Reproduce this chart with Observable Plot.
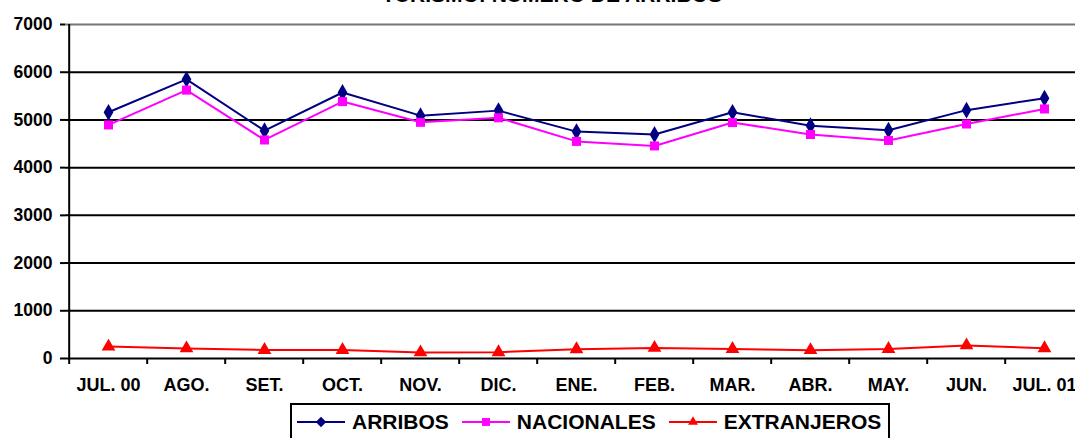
<!DOCTYPE html>
<html>
<head>
<meta charset="utf-8">
<script src="https://cdn.jsdelivr.net/npm/d3@7"></script>
<script src="https://cdn.jsdelivr.net/npm/@observablehq/plot@0.6"></script>
<style>
  html, body { margin: 0; padding: 0; background: #fff; overflow: hidden; }
  #wrap { position: relative; width: 1075px; height: 438px; font-family: "Liberation Sans", Arial, sans-serif; }
  #title { position: absolute; top: -17px; left: 352px; width: 400px; text-align: center; font-weight: bold; font-size: 21px; white-space: nowrap; }
  #legend { position: absolute; left: 290px; top: 403px; width: 600px; height: 50px; border: 2px solid #000; box-sizing: border-box; display: flex; align-items: flex-start; padding-left: 4px; padding-top: 5px; font-weight: bold; font-size: 21px; }
  .item { display: flex; align-items: center; margin-right: 12px; }
  .item svg { margin-right: 6px; }
</style>
</head>
<body>
<div id="wrap">
  <div id="chart"></div>
  <div id="title">TURISMO: NUMERO DE ARRIBOS</div>
  <div id="legend"></div>
</div>
<script>
const months = ["JUL. 00","AGO.","SET.","OCT.","NOV.","DIC.","ENE.","FEB.","MAR.","ABR.","MAY.","JUN.","JUL. 01"];
const arribos = [5160,5850,4775,5575,5090,5195,4755,4695,5160,4880,4785,5205,5455];
const nacionales = [4895,5625,4580,5385,4950,5045,4550,4455,4945,4695,4570,4915,5230];
const extranjeros = [250,212,178,180,128,132,195,222,200,175,198,275,215];
const yTicks = [0,1000,2000,3000,4000,5000,6000,7000];
const seriesNames = ["ARRIBOS","NACIONALES","EXTRANJEROS"];
const seriesColors = ["#000080","#FF00FF","#FF0000"];
const seriesSymbols = ["diamond","square","triangle"];

const seriesValues = [arribos, nacionales, extranjeros];
const rows = [];
seriesNames.forEach((s, i) => months.forEach((m, j) => rows.push({serie: s, mes: m, valor: seriesValues[i][j]})));

const half = (1047.8 - 104.3) / 12 / 2;

const chart = Plot.plot({
  width: 1075,
  height: 400,
  marginTop: 24,
  marginBottom: 42,
  marginLeft: 65,
  marginRight: 0,
  style: {fontFamily: "Liberation Sans, Arial, sans-serif", fontSize: "17.5px", fontWeight: "bold", color: "#000", background: "#fff"},
  x: {type: "point", domain: months, range: [104.3, 1047.8], padding: 0},
  y: {domain: [0, 7000], label: null},
  color: {domain: seriesNames, range: seriesColors},
  symbol: {domain: seriesNames, range: seriesSymbols},
  marks: [
    Plot.ruleY(yTicks.filter(v => v > 0 && v < 7000), {stroke: "#000", strokeWidth: 2}),
    Plot.ruleY([7000], {stroke: "#777", strokeWidth: 2}),
    Plot.ruleY([0], {stroke: "#000", strokeWidth: 2}),
    Plot.ruleX([months[0]], {dx: -half, y1: 0, y2: 7000, stroke: "#000", strokeWidth: 2}),
    Plot.axisY({ticks: yTicks, tickSize: 5, tickPadding: 8, tickFormat: d => String(d), label: null, stroke: "#000", strokeWidth: 2, strokeOpacity: 1}),
    Plot.axisX({ticks: months, tickSize: 6, dx: -half, tickFormat: () => "", label: null, stroke: "#000", strokeWidth: 2, strokeOpacity: 1}),
    Plot.axisX({ticks: months, tickSize: 0, tickPadding: 20, label: null, fontSize: 18}),
    Plot.line(rows, {x: "mes", y: "valor", z: "serie", stroke: "serie", strokeWidth: 2}),
    Plot.dot(rows, {x: "mes", y: "valor", symbol: "serie", fill: "serie", stroke: "none", r: 5.1})
  ]
});
document.getElementById("chart").appendChild(chart);

// Legend
const legend = document.getElementById("legend");
seriesNames.forEach((name, i) => {
  const item = document.createElement("div");
  item.className = "item";
  const sym = d3.symbol().type(i === 0 ? d3.symbolDiamond2 : i === 1 ? d3.symbolSquare2 : d3.symbolTriangle2).size(i === 1 ? 80 : 70);
  item.innerHTML = `<svg width="50" height="20"><line x1="1" x2="49" y1="10" y2="10" stroke="${seriesColors[i]}" stroke-width="2"/><path transform="translate(25,10)" d="${sym()}" fill="${seriesColors[i]}"/></svg><span>${name}</span>`;
  legend.appendChild(item);
});
</script>
</body>
</html>
